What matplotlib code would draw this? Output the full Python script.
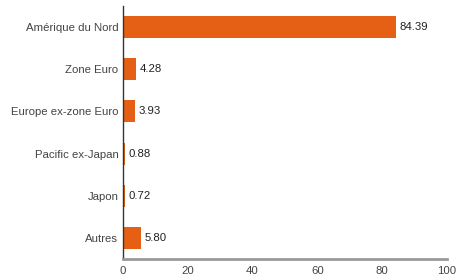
import matplotlib
matplotlib.use("Agg")
import matplotlib.pyplot as plt

categories = ["Amérique du Nord", "Zone Euro", "Europe ex-zone Euro",
              "Pacific ex-Japan", "Japon", "Autres"]
values = [84.39, 4.28, 3.93, 0.88, 0.72, 5.80]
xticks = [0, 20, 40, 60, 80, 100]

plt.rcParams['font.family'] = ['Liberation Sans', 'DejaVu Sans']

fig = plt.figure(figsize=(4.59, 2.79), dpi=100)
ax = fig.add_axes([0.267, 0.0717, 0.707, 0.907])
ypos = list(range(len(categories)))
ax.barh(ypos, values, height=0.52, color="#E56015")
for y, v in zip(ypos, values):
    ax.text(v + 1.0, y, f"{v:.2f}", va="center", ha="left", fontsize=8.2, color="#222222")
ax.set_yticks(ypos)
ax.set_yticklabels(categories, fontsize=8.2, color="#444444")
ax.set_ylim(len(categories) - 0.5, -0.5)
ax.set_xlim(0, 100)
ax.set_xticks(xticks)
ax.set_xticklabels([str(t) for t in xticks], fontsize=8.2, color="#444444")
ax.tick_params(axis='y', length=0, pad=3)
ax.tick_params(axis='x', length=0, pad=5)
for s in ["top", "right"]:
    ax.spines[s].set_visible(False)
ax.spines["left"].set_color("#333333")
ax.spines["left"].set_linewidth(1.0)
ax.spines["bottom"].set_color("#999999")
ax.spines["bottom"].set_linewidth(2.0)
fig.savefig("out.png", dpi=100)
